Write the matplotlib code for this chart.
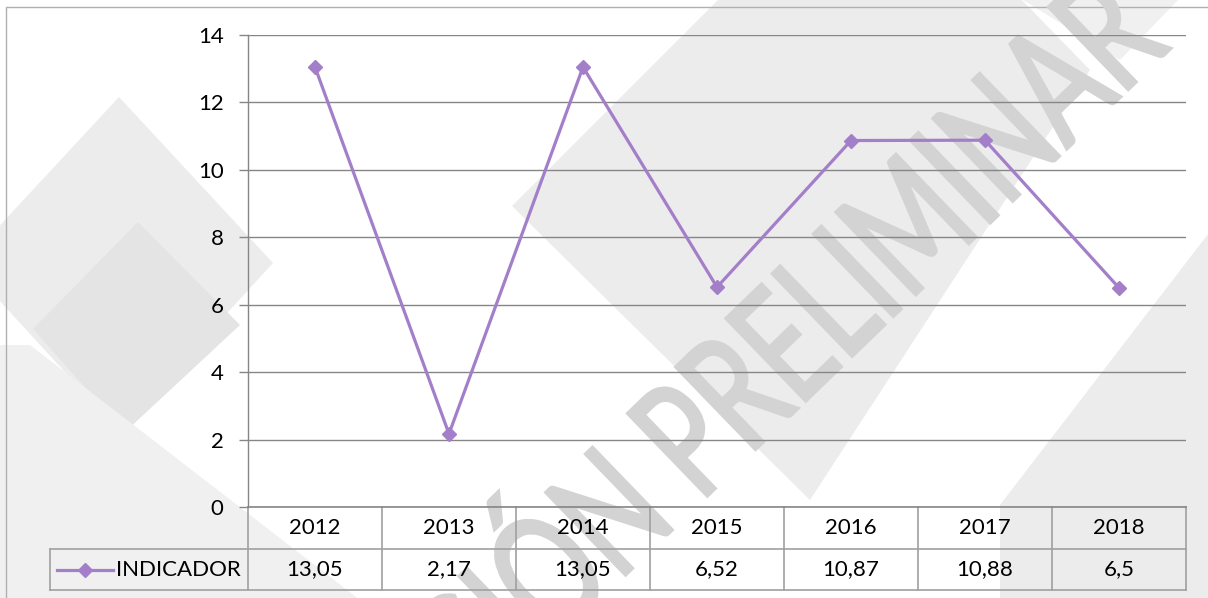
import matplotlib
matplotlib.use("Agg")
import matplotlib.pyplot as plt
from matplotlib.patches import Polygon, Rectangle, PathPatch
from matplotlib.lines import Line2D
from matplotlib.transforms import blended_transform_factory, Affine2D
from matplotlib.textpath import TextPath, text_to_path
from matplotlib.font_manager import FontProperties

plt.rcParams['font.family'] = ['Lato', 'DejaVu Sans']

years = ['2012', '2013', '2014', '2015', '2016', '2017', '2018']
indicador = [13.05, 2.17, 13.05, 6.52, 10.87, 10.88, 6.5]
serie_name = 'INDICADOR'
yticks = [0, 2, 4, 6, 8, 10, 12, 14]

W, H = 1208, 598
LINE_COLOR = '#A47FC9'
GRID_COLOR = '#868686'
FS = 16

fig = plt.figure(figsize=(W / 100, H / 100), dpi=100)
fig.patch.set_facecolor('white')


def px(x, y):
    # pixel coords (origin top-left) -> figure fraction
    return (x / W, 1 - y / H)


# soft grey background shapes (watermark decoration)
shapes = [
    ([(119, 97), (273, 263), (119, 431), (-35, 263)], '#ececec'),
    ([(138, 222), (240, 325), (125, 432), (33, 329)], '#e4e4e4'),
    ([(0, 345), (30, 345), (360, 600), (0, 600)], '#f0f0f0'),
    ([(512, 206), (720, -2), (1020, -2), (1090, 70), (810, 500)], '#ececec'),
    ([(1020, -2), (1180, -2), (1120, 60)], '#f0f0f0'),
    ([(1000, 605), (1000, 505), (1215, 225), (1215, 605)], '#ececec'),
]
for pts, col in shapes:
    fig.patches.append(Polygon([px(*p) for p in pts], closed=True,
                               transform=fig.transFigure, facecolor=col,
                               edgecolor='none', zorder=-3))

# outer chart border
fig.patches.append(Rectangle(px(5.5, 605), (W + 10) / W, (605 - 6.5) / H,
                             transform=fig.transFigure, fill=False,
                             edgecolor='#b0b0b0', linewidth=1, zorder=-2))

# watermark "VERSIÓN PRELIMINAR", squeezed along its baseline
wm_prop = FontProperties(family='Lato', weight='normal')
wm_size = 160
p_start = (700, H - 503)      # baseline start of "PRELIMINAR" (display px)
p_len = 655                   # baseline length of "PRELIMINAR"
angle = 44
full = TextPath((0, 0), 'VERSIÓN PRELIMINAR', size=wm_size, prop=wm_prop)
pre_w = text_to_path.get_text_width_height_descent('VERSIÓN ', wm_prop,
                                                    ismath=False)[0]
word_w = text_to_path.get_text_width_height_descent('PRELIMINAR', wm_prop,
                                                     ismath=False)[0]
scale_ref = wm_size / wm_prop.get_size_in_points()
pre_w *= scale_ref
word_w *= scale_ref
sx = p_len / word_w
wm_tr = (Affine2D().translate(-pre_w, 0).scale(sx, 1)
         .rotate_deg(angle).translate(*p_start))
fig.add_artist(PathPatch(full, transform=wm_tr, facecolor='#d3d3d3',
                         edgecolor='#d3d3d3', linewidth=2.5, zorder=-1))

# main axes
ax = fig.add_axes([248 / W, 1 - 507 / H, 938 / W, 472 / H])
ax.set_facecolor('none')
x = list(range(len(years)))
ax.plot(x, indicador, color=LINE_COLOR, linewidth=2.3, marker='D',
        markersize=7, markerfacecolor=LINE_COLOR, markeredgecolor=LINE_COLOR,
        zorder=3, clip_on=False)

ax.set_xlim(-0.5, len(years) - 0.5)
ax.set_ylim(0, 14)
ax.set_yticks(yticks)
ax.set_yticklabels([str(t) for t in yticks], fontsize=FS)
ax.yaxis.grid(True, color=GRID_COLOR, linewidth=1)
ax.set_axisbelow(True)
ax.tick_params(axis='y', length=6.5, width=1, color=GRID_COLOR, pad=11)
ax.tick_params(axis='x', length=0, labelbottom=False)
for s in ['top', 'right', 'bottom']:
    ax.spines[s].set_visible(False)
ax.spines['left'].set_color(GRID_COLOR)
ax.spines['left'].set_linewidth(1)

# data table below the plot
tr = blended_transform_factory(ax.transData, ax.transAxes)
h1 = -42 / 472
h2 = -83 / 472
leg_left = (50 - 248) / 938
tcol = '#a0a0a0'

for i in range(len(years) + 1):
    ax.add_line(Line2D([i - 0.5, i - 0.5], [0, h2], transform=tr,
                       color=tcol, linewidth=1.2, clip_on=False))
for yy in [h1, h2]:
    ax.add_line(Line2D([leg_left, 1], [yy, yy], transform=ax.transAxes,
                       color=tcol, linewidth=1.2, clip_on=False))
ax.add_line(Line2D([leg_left, leg_left], [h1, h2], transform=ax.transAxes,
                   color=tcol, linewidth=1.2, clip_on=False))
ax.add_line(Line2D([0, 1], [0, 0], transform=ax.transAxes,
                   color=GRID_COLOR, linewidth=1.2, clip_on=False))

for i, (yr, v) in enumerate(zip(years, indicador)):
    ax.text(i, h1 / 2, yr, transform=tr, ha='center', va='center',
            fontsize=FS, color='black')
    ax.text(i, (h1 + h2) / 2, str(v).replace('.', ','), transform=tr,
            ha='center', va='center', fontsize=FS, color='black')

# legend key inside the table
ymid = (h1 + h2) / 2
k0, k1 = (57 - 248) / 938, (113 - 248) / 938
ax.add_line(Line2D([k0, k1], [ymid, ymid], transform=ax.transAxes,
                   color=LINE_COLOR, linewidth=2.3, clip_on=False))
ax.add_line(Line2D([(k0 + k1) / 2], [ymid], transform=ax.transAxes,
                   marker='D', markersize=7, color=LINE_COLOR, clip_on=False))
ax.text((116 - 248) / 938, ymid, serie_name, transform=ax.transAxes,
        ha='left', va='center', fontsize=FS, color='black')

fig.savefig('out.png', dpi=100)
